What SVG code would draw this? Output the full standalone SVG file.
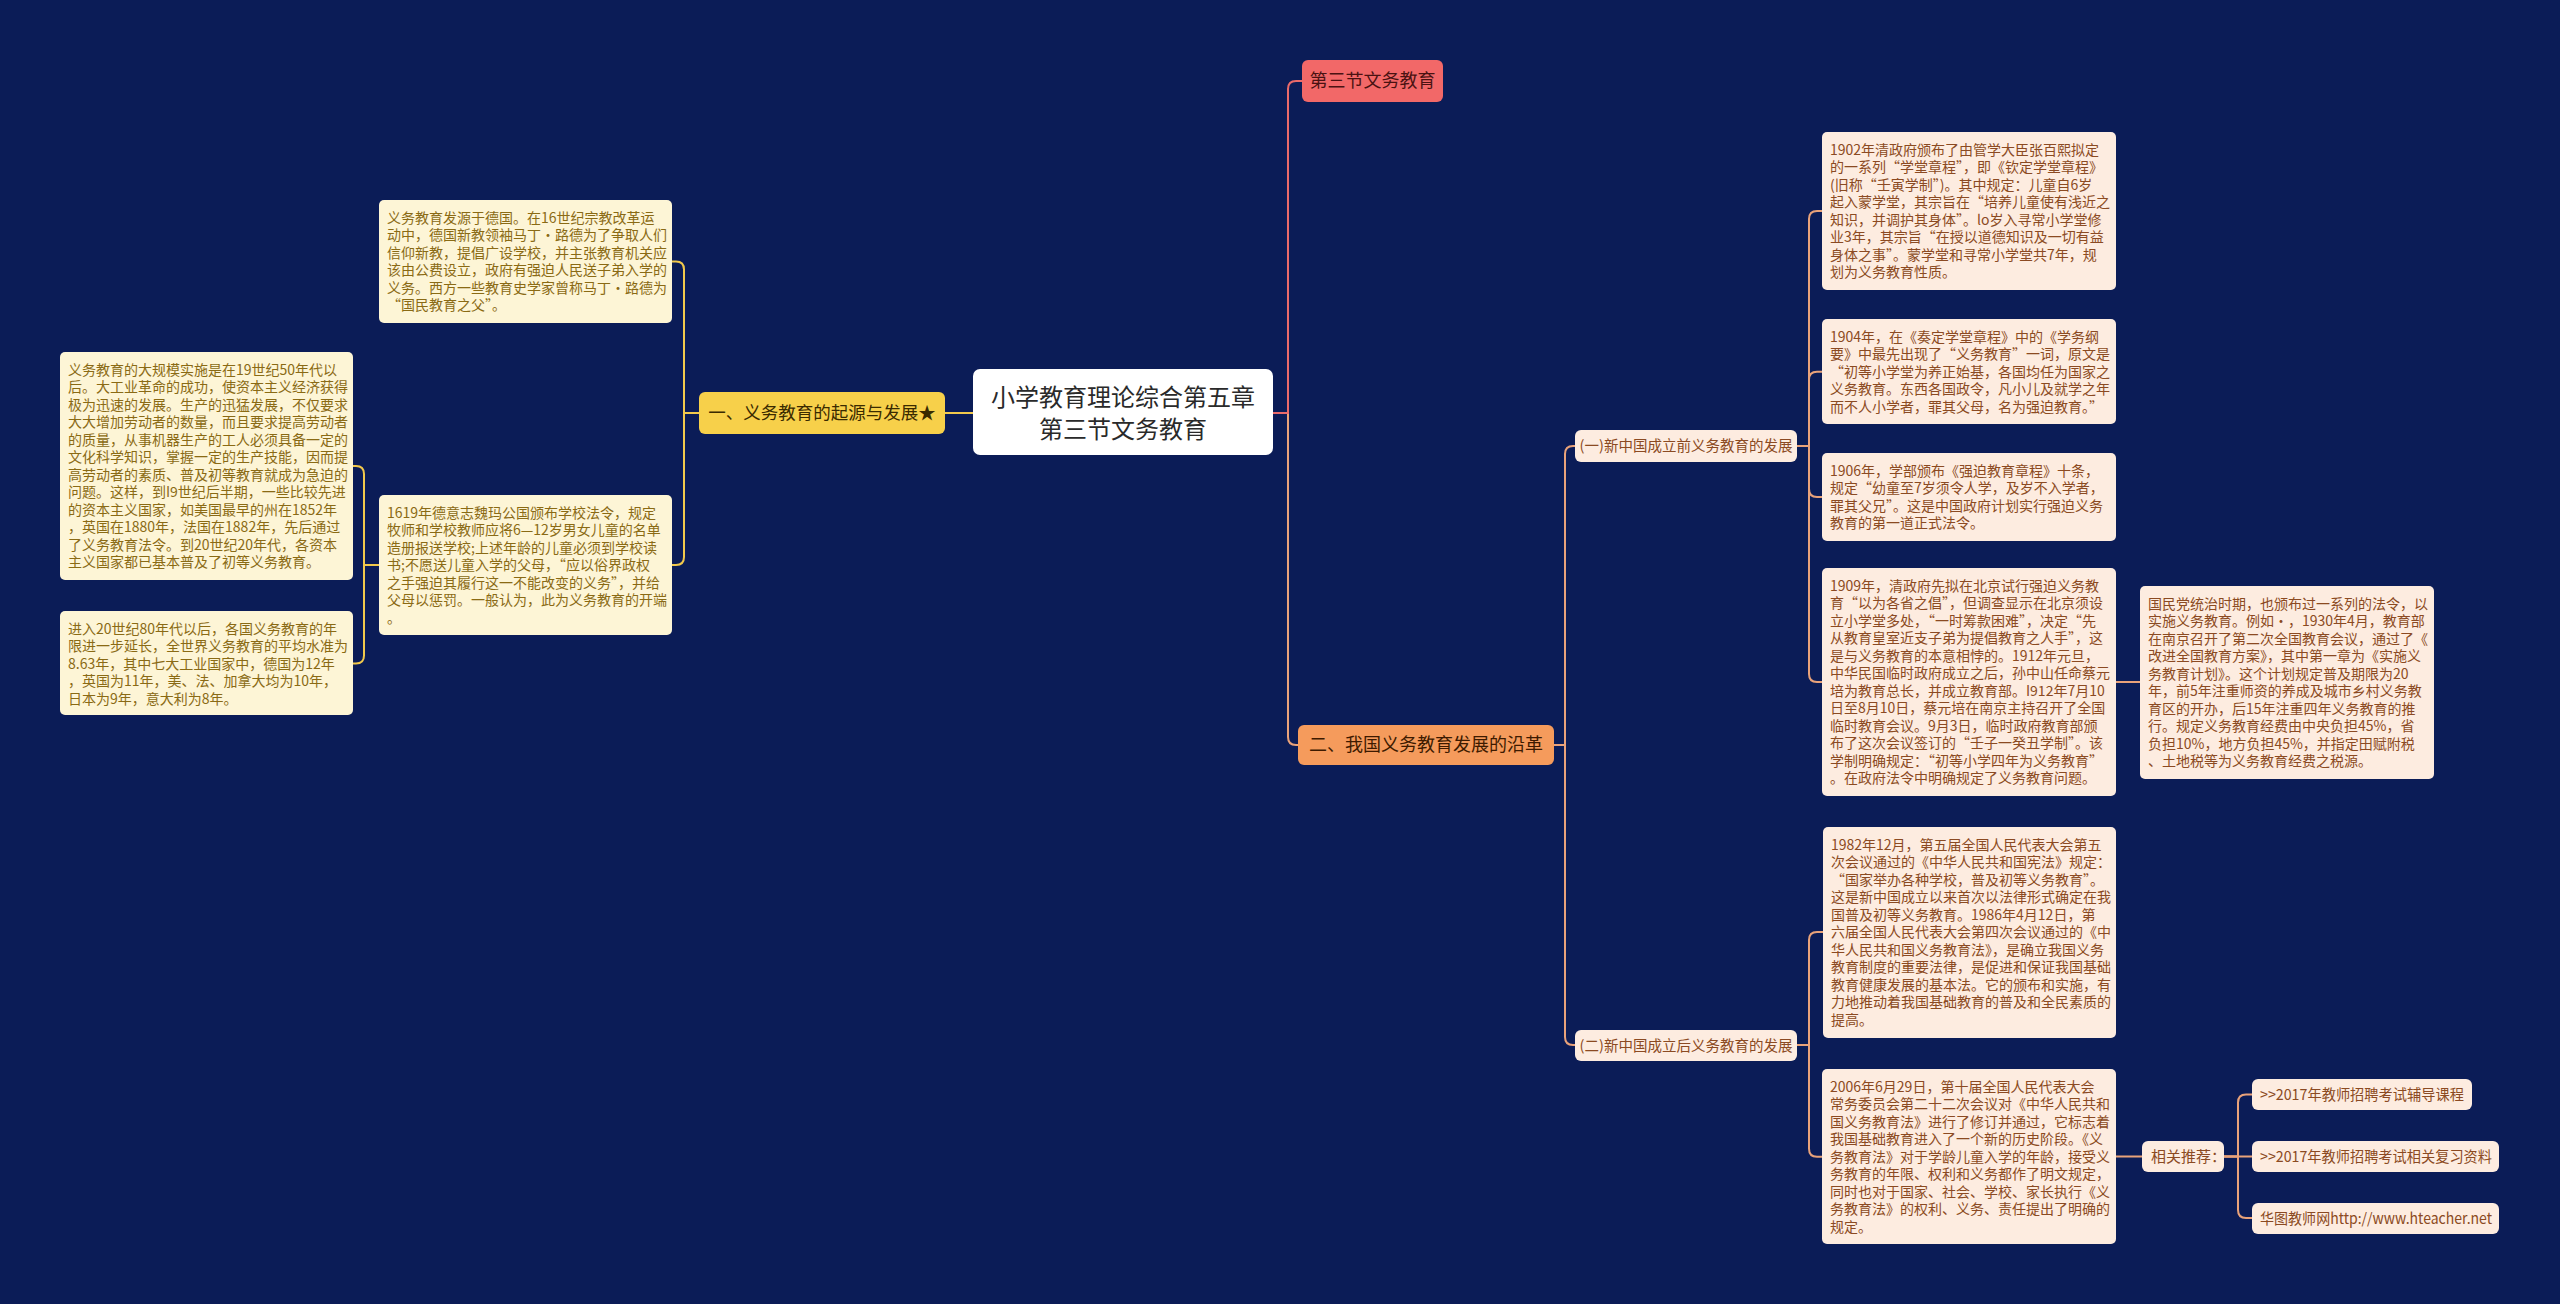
<svg xmlns="http://www.w3.org/2000/svg" width="2560" height="1304" viewBox="0 0 2560 1304">
<style>
text{font-family:"Noto Sans CJK SC","Liberation Sans",sans-serif;}
.lbox{fill:#fdf5d6;}
.ltxt{font-size:14px;fill:#8a6a14;}
.pbox{fill:#fdece0;}
.ptxt{font-size:14px;fill:#8b4a22;}
.plab{font-size:14.5px;fill:#8b4a22;}
.rtxt{font-size:15px;fill:#8b4a22;}
.yl{fill:none;stroke:#f2c94c;stroke-width:2;}
.ol{fill:none;stroke:#e9a27a;stroke-width:2;}
.rl{fill:none;stroke:#ea6a6a;stroke-width:2;}
</style>
<rect x="0" y="0" width="2560" height="1304" fill="#0b1c57"/>
<g id="connectors">
<path class="yl" d="M973,413 H945"/>
<path class="yl" d="M699,413 H684 V269.5 Q684,261.5 676,261.5 H672"/>
<path class="yl" d="M699,413 H684 V557 Q684,565 676,565 H672"/>
<path class="yl" d="M379,565 H364 V474 Q364,466 356,466 H353"/>
<path class="yl" d="M379,565 H364 V655.5 Q364,663.5 356,663.5 H353"/>
<path class="ol" d="M1273,413 H1288 V737 Q1288,745 1296,745 H1298"/>
<path class="rl" d="M1273,413 H1288 V89 Q1288,81 1296,81 H1302"/>
<path class="ol" d="M1554,745 H1565 V454 Q1565,446 1573,446 H1575"/>
<path class="ol" d="M1554,745 H1565 V1037 Q1565,1045 1573,1045 H1575"/>
<path class="ol" d="M1797,446 H1809 V219 Q1809,211 1817,211 H1822"/>
<path class="ol" d="M1797,446 H1809 V379.75 Q1809,371.75 1817,371.75 H1822"/>
<path class="ol" d="M1797,446 H1809 V489 Q1809,497 1817,497 H1822"/>
<path class="ol" d="M1797,446 H1809 V674 Q1809,682 1817,682 H1822"/>
<path class="ol" d="M1797,1045 H1809 V940 Q1809,932 1817,932 H1823"/>
<path class="ol" d="M1797,1045 H1809 V1148.75 Q1809,1156.75 1817,1156.75 H1822"/>
<path class="ol" d="M2116,682 H2140"/>
<path class="ol" d="M2116,1156.5 H2142"/>
<path class="ol" d="M2224,1156.5 H2238 V1102.5 Q2238,1094.5 2246,1094.5 H2252"/>
<path class="ol" d="M2224,1156.5 H2252"/>
<path class="ol" d="M2224,1156.5 H2238 V1210 Q2238,1218 2246,1218 H2252"/>
</g>
<g id="root">
<rect x="973" y="369" width="300" height="86" rx="7" fill="#ffffff"/>
<text x="1123" y="406" font-size="24" fill="#2a2a2a" text-anchor="middle">小学教育理论综合第五章</text>
<text x="1123" y="438" font-size="24" fill="#2a2a2a" text-anchor="middle">第三节文务教育</text>
</g>
<g id="branch1">
<rect x="699" y="392" width="246" height="42" rx="6" fill="#f7d04a"/>
<text x="822" y="419" font-size="17.5" fill="#3a2a00" text-anchor="middle">一、义务教育的起源与发展★</text>
</g>
<g id="node-l1">
<rect class="lbox" x="379" y="200" width="293" height="123" rx="5"/>
<text class="ltxt" x="387" y="222.75"><tspan x="387">义务教育发源于德国。在16世纪宗教改革运</tspan><tspan x="387" dy="17.5">动中，德国新教领袖马丁•路德为了争取人们</tspan><tspan x="387" dy="17.5">信仰新教，提倡广设学校，并主张教育机关应</tspan><tspan x="387" dy="17.5">该由公费设立，政府有强迫人民送子弟入学的</tspan><tspan x="387" dy="17.5">义务。西方一些教育史学家曾称马丁•路德为</tspan><tspan x="387" dy="17.5">“国民教育之父”。</tspan></text>
</g>
<g id="node-l3">
<rect class="lbox" x="379" y="495" width="293" height="140" rx="5"/>
<text class="ltxt" x="387" y="517.75"><tspan x="387">1619年德意志魏玛公国颁布学校法令，规定</tspan><tspan x="387" dy="17.5">牧师和学校教师应将6—12岁男女儿童的名单</tspan><tspan x="387" dy="17.5">造册报送学校;上述年龄的儿童必须到学校读</tspan><tspan x="387" dy="17.5">书;不愿送儿童入学的父母，“应以俗界政权</tspan><tspan x="387" dy="17.5">之手强迫其履行这一不能改变的义务”，并给</tspan><tspan x="387" dy="17.5">父母以惩罚。一般认为，此为义务教育的开端</tspan><tspan x="387" dy="17.5">。</tspan></text>
</g>
<g id="node-l2">
<rect class="lbox" x="60" y="352" width="293" height="228" rx="5"/>
<text class="ltxt" x="68" y="374.75"><tspan x="68">义务教育的大规模实施是在19世纪50年代以</tspan><tspan x="68" dy="17.5">后。大工业革命的成功，使资本主义经济获得</tspan><tspan x="68" dy="17.5">极为迅速的发展。生产的迅猛发展，不仅要求</tspan><tspan x="68" dy="17.5">大大增加劳动者的数量，而且要求提高劳动者</tspan><tspan x="68" dy="17.5">的质量，从事机器生产的工人必须具备一定的</tspan><tspan x="68" dy="17.5">文化科学知识，掌握一定的生产技能，因而提</tspan><tspan x="68" dy="17.5">高劳动者的素质、普及初等教育就成为急迫的</tspan><tspan x="68" dy="17.5">问题。这样，到I9世纪后半期，一些比较先进</tspan><tspan x="68" dy="17.5">的资本主义国家，如美国最早的州在1852年</tspan><tspan x="68" dy="17.5">，英国在1880年，法国在1882年，先后通过</tspan><tspan x="68" dy="17.5">了义务教育法令。到20世纪20年代，各资本</tspan><tspan x="68" dy="17.5">主义国家都已基本普及了初等义务教育。</tspan></text>
</g>
<g id="node-l4">
<rect class="lbox" x="60" y="611" width="293" height="104" rx="5"/>
<text class="ltxt" x="68" y="633.75"><tspan x="68">进入20世纪80年代以后，各国义务教育的年</tspan><tspan x="68" dy="17.5">限进一步延长，全世界义务教育的平均水准为</tspan><tspan x="68" dy="17.5">8.63年，其中七大工业国家中，德国为12年</tspan><tspan x="68" dy="17.5">，英国为11年，美、法、加拿大均为10年，</tspan><tspan x="68" dy="17.5">日本为9年，意大利为8年。</tspan></text>
</g>
<g id="node-red">
<rect x="1302" y="60" width="141" height="42" rx="6" fill="#f26868"/>
<text x="1372.5" y="87" font-size="18" fill="#4a1212" text-anchor="middle">第三节文务教育</text>
</g>
<g id="branch2">
<rect x="1298" y="725" width="256" height="40" rx="6" fill="#f59b5c"/>
<text x="1426" y="751" font-size="18" fill="#3d1a00" text-anchor="middle">二、我国义务教育发展的沿革</text>
</g>
<g id="sub1">
<rect class="pbox" x="1575" y="430" width="222" height="32" rx="6"/>
<text class="plab" x="1686" y="451" text-anchor="middle">(一)新中国成立前义务教育的发展</text>
</g>
<g id="sub2">
<rect class="pbox" x="1575" y="1030" width="222" height="31" rx="6"/>
<text class="plab" x="1686" y="1050.5" text-anchor="middle">(二)新中国成立后义务教育的发展</text>
</g>
<g id="node-a">
<rect class="pbox" x="1822" y="132" width="294" height="158" rx="5"/>
<text class="ptxt" x="1830" y="154.75"><tspan x="1830">1902年清政府颁布了由管学大臣张百熙拟定</tspan><tspan x="1830" dy="17.5">的一系列“学堂章程”，即《钦定学堂章程》</tspan><tspan x="1830" dy="17.5">(旧称“壬寅学制”)。其中规定：儿童自6岁</tspan><tspan x="1830" dy="17.5">起入蒙学堂，其宗旨在“培养儿童使有浅近之</tspan><tspan x="1830" dy="17.5">知识，并调护其身体”。lo岁入寻常小学堂修</tspan><tspan x="1830" dy="17.5">业3年，其宗旨“在授以道德知识及一切有益</tspan><tspan x="1830" dy="17.5">身体之事”。蒙学堂和寻常小学堂共7年，规</tspan><tspan x="1830" dy="17.5">划为义务教育性质。</tspan></text>
</g>
<g id="node-b">
<rect class="pbox" x="1822" y="319" width="294" height="105" rx="5"/>
<text class="ptxt" x="1830" y="341.75"><tspan x="1830">1904年，在《奏定学堂章程》中的《学务纲</tspan><tspan x="1830" dy="17.5">要》中最先出现了“义务教育”一词，原文是</tspan><tspan x="1830" dy="17.5">“初等小学堂为养正始基，各国均任为国家之</tspan><tspan x="1830" dy="17.5">义务教育。东西各国政令，凡小儿及就学之年</tspan><tspan x="1830" dy="17.5">而不人小学者，罪其父母，名为强迫教育。”</tspan></text>
</g>
<g id="node-c">
<rect class="pbox" x="1822" y="453" width="294" height="88" rx="5"/>
<text class="ptxt" x="1830" y="475.75"><tspan x="1830">1906年，学部颁布《强迫教育章程》十条，</tspan><tspan x="1830" dy="17.5">规定“幼童至7岁须令人学，及岁不入学者，</tspan><tspan x="1830" dy="17.5">罪其父兄”。这是中国政府计划实行强迫义务</tspan><tspan x="1830" dy="17.5">教育的第一道正式法令。</tspan></text>
</g>
<g id="node-d">
<rect class="pbox" x="1822" y="568" width="294" height="228" rx="5"/>
<text class="ptxt" x="1830" y="590.75"><tspan x="1830">1909年，清政府先拟在北京试行强迫义务教</tspan><tspan x="1830" dy="17.5">育“以为各省之倡”，但调查显示在北京须设</tspan><tspan x="1830" dy="17.5">立小学堂多处，“一时筹款困难”，决定“先</tspan><tspan x="1830" dy="17.5">从教育皇室近支子弟为提倡教育之人手”，这</tspan><tspan x="1830" dy="17.5">是与义务教育的本意相悖的。1912年元旦，</tspan><tspan x="1830" dy="17.5">中华民国临时政府成立之后，孙中山任命蔡元</tspan><tspan x="1830" dy="17.5">培为教育总长，并成立教育部。I912年7月10</tspan><tspan x="1830" dy="17.5">日至8月10日，蔡元培在南京主持召开了全国</tspan><tspan x="1830" dy="17.5">临时教育会议。9月3日，临时政府教育部颁</tspan><tspan x="1830" dy="17.5">布了这次会议签订的“壬子一癸丑学制”。该</tspan><tspan x="1830" dy="17.5">学制明确规定：“初等小学四年为义务教育”</tspan><tspan x="1830" dy="17.5">。在政府法令中明确规定了义务教育问题。</tspan></text>
</g>
<g id="node-e">
<rect class="pbox" x="2140" y="586" width="294" height="193" rx="5"/>
<text class="ptxt" x="2148" y="608.75"><tspan x="2148">国民党统治时期，也颁布过一系列的法令，以</tspan><tspan x="2148" dy="17.5">实施义务教育。例如•，1930年4月，教育部</tspan><tspan x="2148" dy="17.5">在南京召开了第二次全国教育会议，通过了《</tspan><tspan x="2148" dy="17.5">改进全国教育方案》，其中第一章为《实施义</tspan><tspan x="2148" dy="17.5">务教育计划》。这个计划规定普及期限为20</tspan><tspan x="2148" dy="17.5">年，前5年注重师资的养成及城市乡村义务教</tspan><tspan x="2148" dy="17.5">育区的开办，后15年注重四年义务教育的推</tspan><tspan x="2148" dy="17.5">行。规定义务教育经费由中央负担45%，省</tspan><tspan x="2148" dy="17.5">负担10%，地方负担45%，并指定田赋附税</tspan><tspan x="2148" dy="17.5">、土地税等为义务教育经费之税源。</tspan></text>
</g>
<g id="node-f">
<rect class="pbox" x="1823" y="827" width="293" height="211" rx="5"/>
<text class="ptxt" x="1831" y="849.75"><tspan x="1831">1982年12月，第五届全国人民代表大会第五</tspan><tspan x="1831" dy="17.5">次会议通过的《中华人民共和国宪法》规定：</tspan><tspan x="1831" dy="17.5">“国家举办各种学校，普及初等义务教育”。</tspan><tspan x="1831" dy="17.5">这是新中国成立以来首次以法律形式确定在我</tspan><tspan x="1831" dy="17.5">国普及初等义务教育。1986年4月12日，第</tspan><tspan x="1831" dy="17.5">六届全国人民代表大会第四次会议通过的《中</tspan><tspan x="1831" dy="17.5">华人民共和国义务教育法》，是确立我国义务</tspan><tspan x="1831" dy="17.5">教育制度的重要法律，是促进和保证我国基础</tspan><tspan x="1831" dy="17.5">教育健康发展的基本法。它的颁布和实施，有</tspan><tspan x="1831" dy="17.5">力地推动着我国基础教育的普及和全民素质的</tspan><tspan x="1831" dy="17.5">提高。</tspan></text>
</g>
<g id="node-g">
<rect class="pbox" x="1822" y="1069" width="294" height="175" rx="5"/>
<text class="ptxt" x="1830" y="1091.75"><tspan x="1830">2006年6月29日，第十届全国人民代表大会</tspan><tspan x="1830" dy="17.5">常务委员会第二十二次会议对《中华人民共和</tspan><tspan x="1830" dy="17.5">国义务教育法》进行了修订并通过，它标志着</tspan><tspan x="1830" dy="17.5">我国基础教育进入了一个新的历史阶段。《义</tspan><tspan x="1830" dy="17.5">务教育法》对于学龄儿童入学的年龄，接受义</tspan><tspan x="1830" dy="17.5">务教育的年限、权利和义务都作了明文规定，</tspan><tspan x="1830" dy="17.5">同时也对于国家、社会、学校、家长执行《义</tspan><tspan x="1830" dy="17.5">务教育法》的权利、义务、责任提出了明确的</tspan><tspan x="1830" dy="17.5">规定。</tspan></text>
</g>
<g id="node-rec">
<rect class="pbox" x="2142" y="1141" width="82" height="31" rx="6"/>
<text class="rtxt" x="2151" y="1162">相关推荐：</text>
</g>
<g id="node-rec1">
<rect class="pbox" x="2252" y="1079" width="220" height="31" rx="6"/>
<text class="rtxt" x="2260" y="1100" textLength="204" lengthAdjust="spacingAndGlyphs">&gt;&gt;2017年教师招聘考试辅导课程</text>
</g>
<g id="node-rec2">
<rect class="pbox" x="2252" y="1141" width="247" height="31" rx="6"/>
<text class="rtxt" x="2260" y="1162" textLength="232" lengthAdjust="spacingAndGlyphs">&gt;&gt;2017年教师招聘考试相关复习资料</text>
</g>
<g id="node-rec3">
<rect class="pbox" x="2252" y="1203" width="247" height="31" rx="6"/>
<text class="rtxt" x="2260" y="1224" textLength="232" lengthAdjust="spacingAndGlyphs">华图教师网http://www.hteacher.net</text>
</g>
</svg>
